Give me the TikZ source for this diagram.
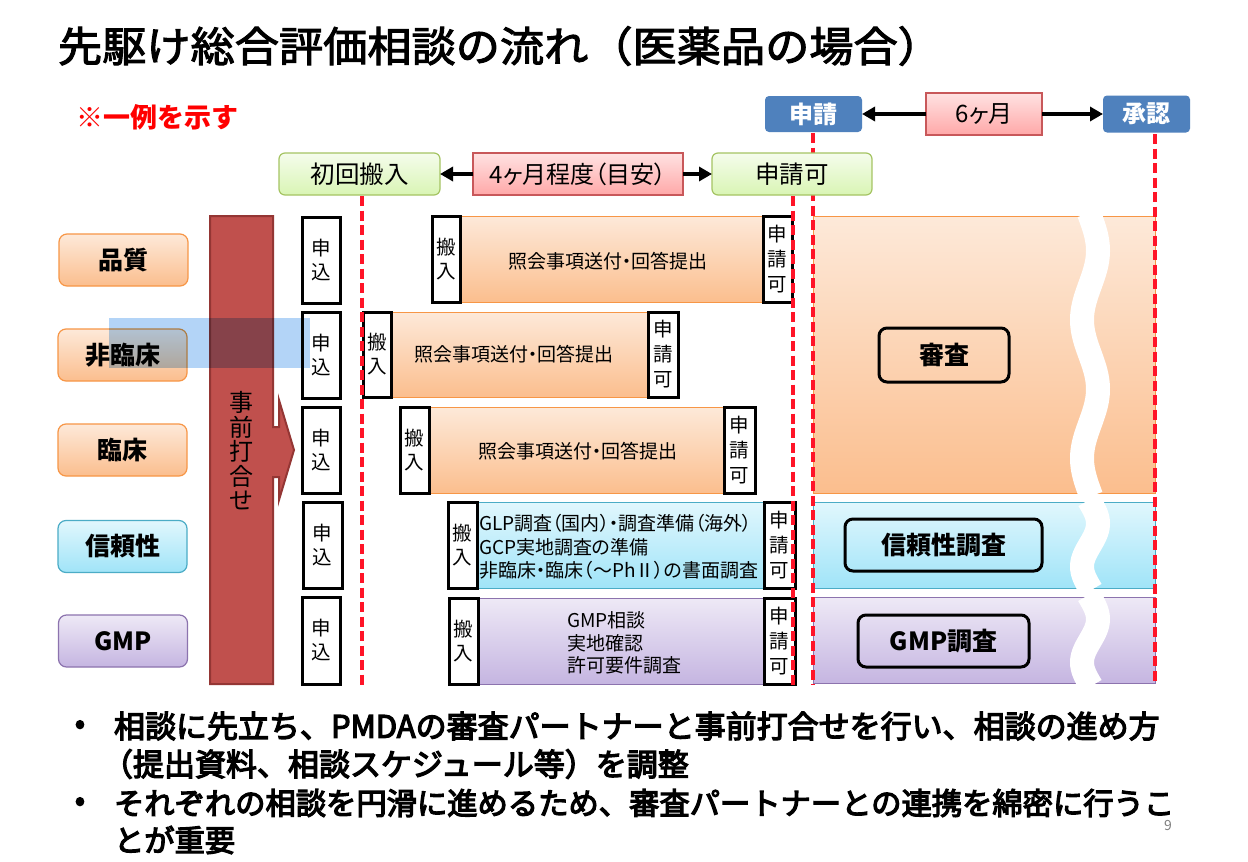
\documentclass[tikz,border=0pt]{standalone}
\usepackage{fontspec}
\setmainfont{Noto Sans CJK JP}[RawFeature=+palt]
\newfontfamily\jpfull{Noto Sans CJK JP}
\newfontfamily\jptitle{Noto Sans CJK JP}[FakeBold=2.5,FakeStretch=1.065]
\newfontfamily\jpbottom{Noto Sans CJK JP}[FakeBold=4]
\usetikzlibrary{arrows.meta}
\definecolor{rdash}{RGB}{255,20,40}
\definecolor{orgT}{HTML}{FDE9D9}
\definecolor{orgB}{HTML}{FBBE8E}
\definecolor{orgL}{HTML}{F79646}
\definecolor{cyaT}{HTML}{E1F7FD}
\definecolor{cyaB}{HTML}{A0E4F8}
\definecolor{cyaL}{HTML}{4BACC6}
\definecolor{purT}{HTML}{EEE9F6}
\definecolor{purB}{HTML}{C5B5E1}
\definecolor{purL}{HTML}{8C73AE}
\definecolor{grnT}{HTML}{F5FCEC}
\definecolor{grnB}{HTML}{D9F5B4}
\definecolor{grnL}{HTML}{A5C463}
\definecolor{pnkT}{HTML}{FFE2E2}
\definecolor{pnkB}{HTML}{FFA8A8}
\definecolor{pnkL}{HTML}{C8585A}
\definecolor{blueH}{HTML}{4F81BD}
\definecolor{barR}{HTML}{C0504D}
\definecolor{barRL}{HTML}{943634}
\definecolor{trBlue}{HTML}{B3D4F7}
\begin{document}
\begin{tikzpicture}[x=1pt,y=-1pt,
  every node/.style={inner sep=0pt,outer sep=0pt},
  catbase/.style={rounded corners=8pt,line width=1.2pt,minimum width=129pt,minimum height=52pt,font=\bfseries\fontsize{25}{30}\selectfont},
  catO/.style={catbase,draw=orgL,top color=orgT,bottom color=orgB},
  catC/.style={catbase,draw=cyaL,top color=cyaT,bottom color=cyaB},
  catP/.style={catbase,draw=purL,top color=purT,bottom color=purB},
  barO/.style={draw=orgL,line width=1pt,top color=orgT,bottom color=orgB},
  barC/.style={draw=cyaL,line width=1pt,top color=cyaT,bottom color=cyaB},
  barP/.style={draw=purL,line width=1pt,top color=purT,bottom color=purB},
  wbox/.style={draw=black,fill=white,line width=3pt,align=center},
  vt2/.style={wbox,font=\fontsize{19.5}{24}\selectfont},
  vt3/.style={wbox,font=\fontsize{19.5}{25}\selectfont},
  greenhdr/.style={rounded corners=6pt,draw=grnL,line width=1.2pt,top color=grnT,bottom color=grnB,font=\fontsize{24.5}{28}\selectfont},
  pinkhdr/.style={draw=pnkL,line width=1.2pt,top color=pnkT,bottom color=pnkB,font=\fontsize{24}{28}\selectfont},
  bluehdr/.style={rounded corners=4pt,fill=blueH,text=white,font=\bfseries\fontsize{24}{28}\selectfont},
  arr/.style={line width=3.5pt,-{Triangle[length=13pt,width=14pt]}},
  lbl/.style={draw=black,rounded corners=8pt,line width=3pt,font=\bfseries\fontsize{25}{30}\selectfont},
  rd/.style={draw=rdash,line width=4pt,dash pattern=on 10pt off 4.5pt},
  ptext/.style={font=\fontsize{19}{23.5}\selectfont},
  bottomA/.style={anchor=west,font=\jpbottom\fontsize{31}{36}\selectfont},
  bottomB/.style={anchor=west,font=\jpbottom\fontsize{30.3}{36}\selectfont},
  wave/.style={draw=white,line width=24pt}
]
\useasboundingbox (0,0) rectangle (1248,862);
\fill[white] (0,0) rectangle (1248,862);

% title and note
\node[anchor=west,font=\jptitle\fontsize{41.5}{50}\selectfont] (title) at (58,46) {先駆け総合評価相談の流れ（医薬品の場合）};
\node[anchor=west,text=red,font=\jpfull\bfseries\fontsize{27}{32}\selectfont] (note) at (76,117) {※一例を示す};

% left category labels
\node[catO] (hinshitsu) at (123.5,260) {品質};
\node[catO] (hirinsho) at (122.5,355) {非臨床};
\node[catO] (rinsho) at (122.5,450) {臨床};
\node[catC] (shinrai) at (122.5,546.5) {信頼性};
\node[catP] (gmp) at (123,641) {GMP};

% pre-meeting bar with arrow
\draw[fill=barR,draw=barRL,line width=2pt] (210,216) -- (273,216) -- (273,427) -- (279,427) -- (279,400) -- (294,450) -- (279,500) -- (279,477) -- (273,477) -- (273,684) -- (210,684) -- cycle;
\node[align=center,font=\fontsize{24}{24.5}\selectfont] (jizen) at (241.5,451) {事\\前\\打\\合\\せ};

% application boxes
\node[vt2,minimum width=38pt,minimum height=86pt] (a1) at (321.5,260) {申\\込};
\node[vt2,minimum width=38pt,minimum height=86pt] (a2) at (321.5,355) {申\\込};
\node[vt2,minimum width=38pt,minimum height=86pt] (a3) at (321.5,450) {申\\込};
\node[vt2,minimum width=39pt,minimum height=86pt] (a4) at (322.5,545) {申\\込};
\node[vt2,minimum width=38pt,minimum height=87pt] (a5) at (321.5,640.5) {申\\込};

% row 1
\node[barO,minimum width=303pt,minimum height=86pt] (b1) at (611.5,259) {};
\node[ptext] (t1) at (608,261) {照会事項送付・回答提出};
\node[vt2,minimum width=28pt,minimum height=86pt] (h1) at (446,259) {搬\\入};
\node[vt3,minimum width=29pt,minimum height=86pt] (k1) at (777.5,259) {申\\請\\可};
% row 2
\node[barO,minimum width=257pt,minimum height=85pt] (b2) at (519.5,354.5) {};
\node[ptext] (t2) at (514,354) {照会事項送付・回答提出};
\node[vt2,minimum width=28pt,minimum height=85pt] (h2) at (377,354.5) {搬\\入};
\node[vt3,minimum width=30pt,minimum height=85pt] (k2) at (663,354.5) {申\\請\\可};
% row 3
\node[barO,minimum width=295pt,minimum height=86pt] (b3) at (576.5,450) {};
\node[ptext] (t3) at (578,451) {照会事項送付・回答提出};
\node[vt2,minimum width=29pt,minimum height=86pt] (h3) at (414.5,450) {搬\\入};
\node[vt3,minimum width=31pt,minimum height=86pt] (k3) at (739.5,450) {申\\請\\可};
% row 4
\node[barC,minimum width=287pt,minimum height=86pt] (b4) at (620.5,545) {};
\node[ptext,anchor=west,align=left] (t4) at (479,547) {GLP調査（国内）・調査準備（海外）\\GCP実地調査の準備\\非臨床・臨床（～PhⅡ）の書面調査};
\node[vt2,minimum width=29pt,minimum height=86pt] (h4) at (462.5,545) {搬\\入};
\node[vt3,minimum width=31pt,minimum height=86pt] (k4) at (779.5,545) {申\\請\\可};
% row 5
\node[barP,minimum width=286pt,minimum height=86pt] (b5) at (621,641) {};
\node[ptext,anchor=west,align=left,font=\fontsize{19}{22.5}\selectfont] (t5) at (567,643) {GMP相談\\実地確認\\許可要件調査};
\node[vt2,minimum width=29pt,minimum height=86pt] (h5) at (463.5,641) {搬\\入};
\node[vt3,minimum width=31pt,minimum height=86pt] (k5) at (779.5,641) {申\\請\\可};

% review blocks
\node[barO,minimum width=342pt,minimum height=277pt] (rev) at (984,354.5) {};
\node[barC,minimum width=342pt,minimum height=86pt] (revc) at (984,545) {};
\node[barP,minimum width=342pt,minimum height=86pt] (revp) at (984,640.5) {};
\draw[wave] plot[domain=213:496,samples=90,smooth] ({1090+8*sin((\x-216)/138.5*360)},\x);
\draw[wave] plot[domain=500:590,samples=40,smooth] ({1090+8*sin((\x-502)/86*360)},\x);
\draw[wave] plot[domain=595:686,samples=40,smooth] ({1090+8*sin((\x-597.5)/86.5*360)},\x);
\node[lbl,minimum width=130pt,minimum height=54pt] (shinsa) at (944,355) {審査};
\node[lbl,minimum width=197pt,minimum height=52pt] (shinraich) at (943.5,545) {信頼性調査};
\node[lbl,minimum width=171pt,minimum height=52pt] (gmpch) at (943.5,641) {GMP調査};

% dashed milestone lines
\coordinate (d1t) at (362,196); \coordinate (d1b) at (362,685);
\coordinate (d2t) at (793,196); \coordinate (d2b) at (793,685);
\coordinate (d3t) at (813,133); \coordinate (d3b) at (813,685);
\coordinate (d4t) at (1155,134); \coordinate (d4b) at (1155,685);
\draw[rd] (d1t) -- (d1b);
\draw[rd] (d2t) -- (d2b);
\draw[rd] (d3t) -- (d3b);
\draw[rd] (d4t) -- (d4b);

% header boxes
\node[bluehdr,minimum width=97pt,minimum height=36pt] (shinsei) at (813.5,114) {申請};
\node[bluehdr,minimum width=87pt,minimum height=37pt] (shonin) at (1146.5,114) {承認};
\node[pinkhdr,minimum width=116pt,minimum height=42pt] (six) at (984,114) {6ヶ月};
\node[greenhdr,minimum width=161pt,minimum height=42pt] (init) at (359.5,174) {初回搬入};
\node[pinkhdr,minimum width=210pt,minimum height=42pt] (four) at (578,174) {4ヶ月程度（目安）};
\node[greenhdr,minimum width=160pt,minimum height=42pt] (kaok) at (792,174) {申請可};
\draw[arr] (six) -- (shinsei);
\draw[arr] (six) -- (shonin);
\draw[arr] (four) -- (init);
\draw[arr] (four) -- (kaok);

% translucent highlight
\fill[trBlue,blend mode=multiply] (109,318) rectangle (310,368);

% bottom text
\node[font=\jpbottom\fontsize{30}{36}\selectfont] (bul1) at (80,727) {•};
\node[bottomA] (l1) at (114,726) {相談に先立ち、PMDAの審査パートナーと事前打合せを行い、相談の進め方};
\node[bottomA] (l2) at (102,764) {（提出資料、相談スケジュール等）を調整};
\node[font=\jpbottom\fontsize{30}{36}\selectfont] (bul2) at (80,804) {•};
\node[bottomB] (l3) at (114,803) {それぞれの相談を円滑に進めるため、審査パートナーとの連携を綿密に行うこ};
\node[bottomB] (l4) at (114,840) {とが重要};
\node[text=gray,font=\fontsize{14}{16}\selectfont] (pg) at (1168,826) {9};
\end{tikzpicture}
\end{document}
